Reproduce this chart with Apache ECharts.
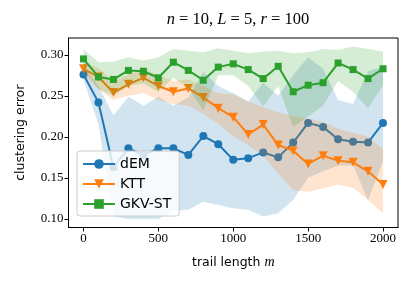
<!DOCTYPE html>
<html>
<head>
<meta charset="utf-8">
<script src="https://cdn.jsdelivr.net/npm/echarts@6/dist/echarts.min.js"></script>
<style>html,body{margin:0;padding:0;background:#fff}#c{width:415px;height:284px}</style>
</head>
<body>
<div id="c"></div>
<script>
const trailLength = [0,100,200,300,400,500,600,700,800,900,1000,1100,1200,1300,1400,1500,1600,1700,1800,1900,2000];
const xTicks = [0,500,1000,1500,2000];
const yTicks = [0.10,0.15,0.20,0.25,0.30];

const dEM = [0.276,0.242,0.163,0.186,0.178,0.186,0.186,0.178,0.201,0.191,0.172,0.174,0.181,0.175,0.193,0.217,0.212,0.197,0.194,0.193,0.217];
const dEMUpper = [0.285,0.262,0.226,0.249,0.238,0.249,0.238,0.248,0.279,0.262,0.253,0.243,0.266,0.250,0.275,0.297,0.283,0.245,0.240,0.280,0.285];
const dEMLower = [0.270,0.215,0.103,0.100,0.100,0.100,0.110,0.111,0.121,0.117,0.113,0.111,0.103,0.107,0.123,0.150,0.158,0.165,0.165,0.123,0.170];

const KTT = [0.283,0.273,0.254,0.264,0.272,0.262,0.255,0.259,0.248,0.235,0.224,0.203,0.215,0.190,0.183,0.167,0.177,0.171,0.169,0.158,0.142];
const KTTUpper = [0.291,0.284,0.268,0.276,0.283,0.275,0.268,0.270,0.262,0.253,0.252,0.243,0.236,0.230,0.225,0.222,0.218,0.210,0.205,0.200,0.185];
const KTTLower = [0.275,0.258,0.245,0.250,0.253,0.245,0.240,0.238,0.228,0.216,0.201,0.190,0.177,0.155,0.135,0.133,0.137,0.142,0.138,0.123,0.107];

const GKV = [0.295,0.273,0.270,0.281,0.280,0.272,0.291,0.281,0.269,0.285,0.289,0.282,0.271,0.286,0.255,0.263,0.266,0.290,0.282,0.271,0.283];
const GKVUpper = [0.307,0.291,0.292,0.297,0.293,0.297,0.307,0.305,0.303,0.308,0.305,0.302,0.304,0.305,0.302,0.303,0.307,0.306,0.310,0.307,0.304];
const GKVLower = [0.282,0.258,0.250,0.262,0.265,0.255,0.272,0.260,0.232,0.275,0.275,0.262,0.237,0.262,0.212,0.225,0.238,0.268,0.255,0.235,0.263];

const C0 = '#1f77b4', C1 = '#ff7f0e', C2 = '#2ca02c';

function band(upper, lower, fill, z) {
  return {
    type: 'custom', silent: true, z: z,
    data: trailLength.map((x, i) => [x, upper[i], lower[i]]),
    encode: {x: 0, y: [1, 2]},
    renderItem: function (params, api) {
      if (params.dataIndex !== 0) return null;
      const pts = [];
      for (let i = 0; i < trailLength.length; i++) pts.push(api.coord([trailLength[i], upper[i]]));
      for (let i = trailLength.length - 1; i >= 0; i--) pts.push(api.coord([trailLength[i], lower[i]]));
      return {type: 'polygon', shape: {points: pts}, style: {fill: fill}};
    }
  };
}
function line(name, vals, color, symbol, size, rot, z) {
  return {
    type: 'line', name: name, z: z, silent: true,
    data: trailLength.map((x, i) => [x, vals[i]]),
    symbol: symbol, symbolSize: size, symbolRotate: rot, showAllSymbol: true,
    lineStyle: {width: 2, color: color}, itemStyle: {color: color},
    emphasis: {disabled: true}
  };
}

const chart = echarts.init(document.getElementById('c'), null, {renderer: 'canvas'});
chart.setOption({
  animation: false,
  backgroundColor: '#fff',
  title: {
    text: '{i|n} = 10, {i|L} = 5, {i|r} = 100',
    left: 233, top: 6, textAlign: 'center',
    textStyle: {fontFamily: 'Liberation Serif', fontSize: 16.5, fontWeight: 'normal', color: '#000',
      rich: {i: {fontFamily: 'Liberation Serif', fontStyle: 'italic', fontSize: 16.5, color: '#000'}}}
  },
  grid: {left: 68.5, right: 17, top: 38, bottom: 56.5, show: true, borderColor: '#000', borderWidth: 1, backgroundColor: 'transparent'},
  legend: {
    data: ['dEM', 'KTT', 'GKV-ST'], orient: 'vertical', left: 77, top: 151,
    itemWidth: 32, itemHeight: 12, itemGap: 6, padding: [6, 8, 5, 5],
    backgroundColor: 'rgba(255,255,255,0.8)', borderColor: '#cccccc', borderWidth: 1, borderRadius: 3,
    textStyle: {fontFamily: 'DejaVu Sans', fontSize: 14, color: '#000'}, z: 30
  },
  xAxis: {
    type: 'value', min: -100, max: 2100,
    name: 'trail length {i|m}', nameLocation: 'middle', nameGap: 28,
    nameTextStyle: {fontFamily: 'DejaVu Sans', fontSize: 12.5, color: '#000',
      rich: {i: {fontFamily: 'Liberation Serif', fontStyle: 'italic', fontSize: 14, color: '#000'}}},
    splitLine: {show: false},
    axisLine: {show: true, onZero: false, lineStyle: {color: '#000', width: 1}},
    axisTick: {show: true, length: 4, customValues: xTicks, lineStyle: {color: '#000'}},
    axisLabel: {customValues: xTicks, fontFamily: 'Liberation Serif', fontSize: 13, color: '#000', margin: 5,
      formatter: v => String(Math.round(v))}
  },
  yAxis: {
    type: 'value', min: 0.0895, max: 0.3205,
    name: 'clustering error', nameLocation: 'middle', nameGap: 41,
    nameTextStyle: {fontFamily: 'DejaVu Sans', fontSize: 12.5, color: '#000'},
    splitLine: {show: false},
    axisLine: {show: true, onZero: false, lineStyle: {color: '#000', width: 1}},
    axisTick: {show: true, length: 4, customValues: yTicks, lineStyle: {color: '#000'}},
    axisLabel: {customValues: yTicks, fontFamily: 'Liberation Serif', fontSize: 13, color: '#000', margin: 5,
      formatter: v => v.toFixed(2)}
  },
  series: [
    line('dEM', dEM, C0, 'circle', 8, 0, 2),
    band(dEMUpper, dEMLower, 'rgba(31,119,180,0.2)', 3),
    line('KTT', KTT, C1, 'triangle', 9, 180, 4),
    band(KTTUpper, KTTLower, 'rgba(255,127,14,0.2)', 5),
    line('GKV-ST', GKV, C2, 'rect', 7, 0, 6),
    band(GKVUpper, GKVLower, 'rgba(44,160,44,0.2)', 7)
  ]
});
</script>
</body>
</html>
